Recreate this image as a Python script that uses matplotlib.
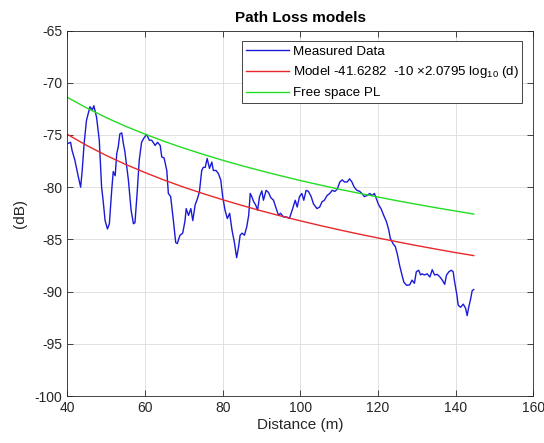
import matplotlib
matplotlib.use("Agg")
import matplotlib.pyplot as plt

plt.rcParams["font.family"] = ["Liberation Sans", "DejaVu Sans"]
plt.rcParams["mathtext.fontset"] = "custom"
plt.rcParams["mathtext.rm"] = "Liberation Sans"
plt.rcParams["mathtext.it"] = "Liberation Sans:italic"
plt.rcParams["axes.unicode_minus"] = False

measured_distance = [
    40.2, 40.8, 41.2, 41.9, 42.8, 43.4, 43.8, 44.3, 44.9, 45.8, 46.4, 46.8,
    47.5, 48.2, 48.8, 49.2, 49.7, 50.3, 50.8, 51.4, 51.8, 52.3, 52.7, 53.1,
    53.5, 54.0, 54.4, 54.8, 55.7, 56.4, 57.0, 57.4, 58.0, 58.5, 59.1, 59.7,
    60.4, 61.1, 61.7, 62.6, 63.2, 63.9, 64.3, 64.9, 65.6, 66.0, 66.6, 67.3,
    67.9, 68.3, 69.0, 69.7, 70.3, 70.6, 71.2, 71.8, 72.3, 72.9, 73.5, 74.0,
    74.6, 75.0, 75.5, 76.0, 76.6, 77.2, 77.6, 78.3, 78.9, 79.5, 80.0, 80.6,
    81.2, 81.8, 82.4, 83.0, 83.6, 84.1, 84.5, 85.0, 85.6, 86.2, 86.7, 87.1,
    87.5, 88.0, 88.5, 89.0, 89.5, 90.1, 90.5, 91.2, 91.8, 92.4, 93.1, 93.8,
    94.4, 94.9, 95.7, 96.5, 97.2, 97.9, 98.7, 99.2, 99.8, 100.4, 100.9,
    101.5, 102.1, 102.8, 103.4, 104.3, 105.0, 105.6, 106.2, 106.9, 107.6,
    108.2, 108.9, 109.5, 110.2, 110.8, 111.4, 112.1, 112.7, 113.3, 113.9,
    114.6, 115.3, 115.9, 116.5, 117.2, 117.9, 118.5, 119.1, 119.6, 120.2,
    120.8, 121.5, 122.2, 122.8, 123.2, 123.9, 124.5, 125.0, 125.6, 126.2,
    126.7, 127.4, 128.2, 128.8, 129.4, 129.9, 130.5, 131.0, 131.4, 132.0,
    132.7, 133.4, 134.0, 134.6, 135.3, 136.0, 136.6, 137.2, 137.7, 138.3,
    138.9, 139.4, 139.7, 140.3, 140.7, 141.3, 142.0, 142.6, 143.0, 143.4,
    143.9, 144.3, 144.7,
]
measured_level = [
    -75.8, -75.7, -76.5, -77.4, -79.0, -80.0, -78.4, -75.8, -73.6, -72.3,
    -72.6, -72.2, -73.3, -75.5, -80.0, -81.3, -83.2, -84.0, -83.5, -80.3,
    -78.5, -78.9, -76.8, -76.1, -74.9, -74.8, -75.8, -76.6, -79.3, -82.2,
    -83.5, -83.4, -80.3, -77.4, -75.7, -75.3, -74.95, -75.5, -75.5, -76.0,
    -75.7, -76.0, -77.1, -77.2, -78.4, -80.6, -80.9, -83.2, -85.3, -85.4,
    -84.6, -84.4, -83.2, -82.05, -82.7, -82.05, -83.2, -81.7, -81.1, -80.45,
    -78.4, -78.1, -78.1, -77.25, -78.2, -77.6, -78.4, -78.4, -78.7, -79.3,
    -80.9, -82.2, -83.0, -82.5, -84.1, -85.25, -86.75, -85.7, -84.6, -84.4,
    -84.6, -83.8, -82.7, -80.6, -80.9, -81.4, -81.7, -82.2, -80.9, -80.35,
    -81.25, -80.3, -80.5, -81.0, -81.25, -82.05, -82.7, -82.5, -82.85,
    -82.85, -83.0, -82.2, -81.25, -81.9, -80.9, -80.6, -81.25, -80.3, -80.4,
    -80.9, -81.6, -82.05, -81.9, -81.4, -81.25, -80.8, -80.6, -80.3, -80.4,
    -80.2, -79.5, -79.3, -79.5, -79.5, -79.2, -79.5, -80.0, -80.3, -80.4,
    -80.6, -80.9, -80.8, -80.6, -80.8, -80.6, -81.1, -81.7, -82.05, -82.7,
    -83.3, -84.1, -84.9, -85.4, -85.7, -86.4, -87.5, -88.4, -89.1, -89.4,
    -89.35, -88.9, -89.2, -88.1, -87.95, -88.4, -88.3, -88.4, -88.3, -88.6,
    -87.9, -88.4, -88.35, -88.6, -88.9, -89.3, -88.4, -88.1, -87.95, -88.1,
    -88.9, -90.2, -91.3, -91.5, -91.2, -91.6, -92.3, -91.5, -90.7, -89.9,
    -89.8,
]

# Fitted model and free space curves, sampled along distance
model_distance = [40, 45, 50, 55, 60, 65, 70, 75, 80, 85, 90, 95, 100, 105,
                  110, 115, 120, 125, 130, 135, 140, 144.7]
model_level = [-74.94, -76.01, -76.96, -77.82, -78.60, -79.33, -80.00,
               -80.62, -81.20, -81.75, -82.27, -82.76, -83.22, -83.66,
               -84.08, -84.48, -84.86, -85.23, -85.59, -85.93, -86.26,
               -86.55]
free_space_level = [-71.40, -72.42, -73.34, -74.17, -74.92, -75.62, -76.26,
                    -76.86, -77.42, -77.95, -78.44, -78.91, -79.36, -79.78,
                    -80.19, -80.57, -80.94, -81.30, -81.64, -81.97, -82.28,
                    -82.57]

x_ticks = [40, 60, 80, 100, 120, 140, 160]
y_ticks = [-100, -95, -90, -85, -80, -75, -70, -65]

figure = plt.figure(figsize=(5.44, 4.43), dpi=100)
axis = figure.add_axes([0.124, 0.106, 0.856, 0.825])

axis.plot(measured_distance, measured_level, color="#1a1ad8", linewidth=1.0,
          label="Measured Data")
axis.plot(model_distance, model_level, color="#e8282a", linewidth=1.0,
          label="Model -41.6282  -10 \u00d72.0795 log$_{10}$ (d)")
axis.plot(model_distance, free_space_level, color="#22dd22", linewidth=1.0,
          label="Free space PL")

axis.set_xlim(40, 160)
axis.set_ylim(-100, -65)
axis.set_xticks(x_ticks)
axis.set_yticks(y_ticks)
axis.tick_params(direction="in", top=True, right=True, labelsize=10,
                 length=4, width=0.6, colors="#262626")
for spine in axis.spines.values():
    spine.set_linewidth(0.6)
    spine.set_color("#262626")
axis.grid(color="#dcdcdc", linewidth=0.6)
axis.set_axisbelow(True)

axis.set_xlabel("Distance (m)", fontsize=11, color="#262626", labelpad=2)
axis.set_ylabel("(dB)", fontsize=11, color="#262626", labelpad=6)
axis.set_title("Path Loss models", fontsize=11, fontweight="bold", pad=6)

legend = axis.legend(loc="upper right", fontsize=9.6, handlelength=3.2,
                     handletextpad=0.3, labelspacing=0.5,
                     borderaxespad=0.8, borderpad=0.3, fancybox=False,
                     framealpha=1.0, edgecolor="#262626")
legend.get_frame().set_linewidth(0.6)

plt.savefig("out.png", dpi=100)
